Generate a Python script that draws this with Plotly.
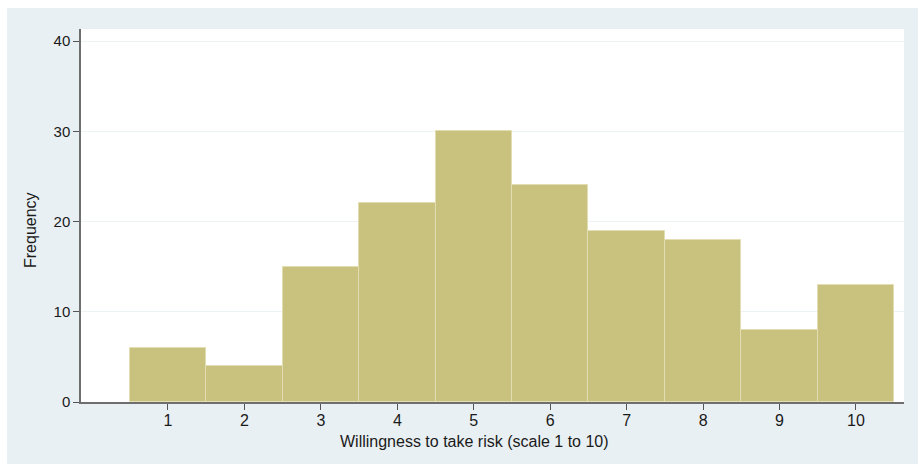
import plotly.graph_objects as go

# Risk-willingness histogram (counts per scale point)
scale_points = [1, 2, 3, 4, 5, 6, 7, 8, 9, 10]
frequency = [6, 4, 15, 22, 30, 24, 19, 18, 8, 13]
y_ticks = [0, 10, 20, 30, 40]

W, H = 918, 464
L, R, T, B = 81, 14, 29, 62
plot_w = W - L - R
plot_h = H - T - B

BG = "#e9f0f3"
BAR = "#c9c27e"
BAR_EDGE = "#e2ddb2"
FONT = "Liberation Sans, Arial, sans-serif"

fig = go.Figure(
    go.Bar(
        x=scale_points,
        y=frequency,
        width=1,
        marker=dict(color=BAR, line=dict(color=BAR_EDGE, width=1)),
        hoverinfo="x+y",
    )
)


def px_to_paper_x(px):
    return (px - L) / plot_w


def py_to_paper_y(py):
    return (H - B - py) / plot_h


# thin white border along the top and left of the outer panel
shapes = [
    dict(type="rect", xref="paper", yref="paper",
         x0=px_to_paper_x(0), x1=px_to_paper_x(W),
         y0=py_to_paper_y(8), y1=py_to_paper_y(0),
         fillcolor="white", line=dict(width=0), layer="below"),
    dict(type="rect", xref="paper", yref="paper",
         x0=px_to_paper_x(0), x1=px_to_paper_x(7),
         y0=py_to_paper_y(H), y1=py_to_paper_y(0),
         fillcolor="white", line=dict(width=0), layer="below"),
]

# axis titles placed as annotations
annotations = [
    dict(text="Willingness to take risk (scale 1 to 10)",
         xref="paper", yref="paper",
         x=px_to_paper_x(474.5), y=py_to_paper_y(441.5),
         xanchor="center", yanchor="middle", showarrow=False,
         font=dict(size=16)),
    dict(text="Frequency",
         xref="paper", yref="paper",
         x=px_to_paper_x(30), y=py_to_paper_y(230),
         xanchor="center", yanchor="middle", showarrow=False,
         textangle=-90, font=dict(size=16)),
]

fig.update_layout(
    width=W,
    height=H,
    margin=dict(l=L, r=R, t=T, b=B, pad=0),
    paper_bgcolor=BG,
    plot_bgcolor="white",
    showlegend=False,
    bargap=0,
    shapes=shapes,
    annotations=annotations,
    font=dict(family=FONT, size=16, color="#1a1a1a"),
    xaxis=dict(
        range=[-0.138, 10.628],
        tickmode="array",
        tickvals=scale_points,
        ticktext=[str(v) for v in scale_points],
        ticks="outside",
        ticklen=6,
        tickwidth=1,
        tickcolor="#555555",
        ticklabelstandoff=-3,
        showline=True,
        linecolor="#6e6e6e",
        linewidth=1.5,
        showgrid=False,
        zeroline=False,
        tickfont=dict(size=16),
    ),
    yaxis=dict(
        range=[0, 41.33],
        tickmode="array",
        tickvals=y_ticks,
        ticks="outside",
        ticklen=6,
        tickwidth=1,
        tickcolor="#555555",
        showline=True,
        linecolor="#6e6e6e",
        linewidth=1.5,
        showgrid=True,
        gridcolor="#edf2f4",
        gridwidth=1,
        zeroline=False,
        tickfont=dict(size=15),
    ),
)

fig.write_html("out.html")
